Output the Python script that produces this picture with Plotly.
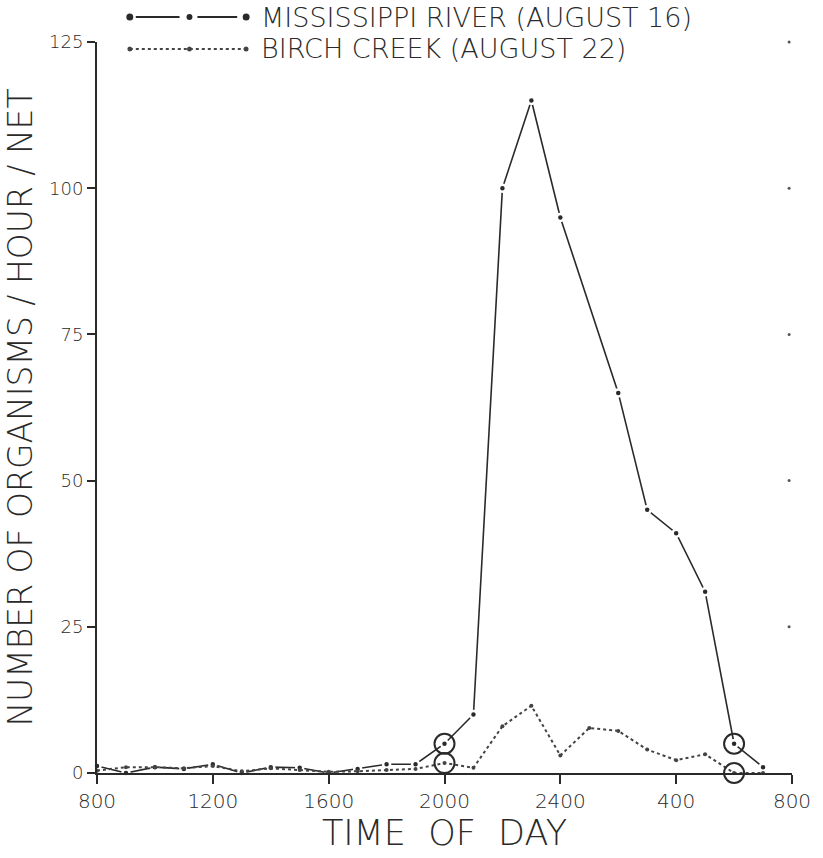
import plotly.graph_objects as go

# ---- data ----
time_of_day = [800, 900, 1000, 1100, 1200, 1300, 1400, 1500, 1600, 1700, 1800, 1900,
               2000, 2100, 2200, 2300, 2400, 100, 200, 300, 400, 500, 600, 700]
mississippi = [1.2, 0, 1.0, 0.7, 1.5, 0, 1.0, 0.9, 0, 0.7, 1.5, 1.5,
               5, 10, 100, 115, 95, None, 65, 45, 41, 31, 5, 1]
birch_creek = [0.4, 1.0, 1.0, 0.8, 1.2, 0.3, 0.8, 0.5, 0.2, 0.3, 0.5, 0.7,
               1.7, 0.9, 8, 11.5, 3, 7.7, 7.2, 4, 2.2, 3.2, 0, 0]
circled_times = [2000, 600]
x_tick_labels = ["800", "1200", "1600", "2000", "2400", "400", "800"]
y_ticks = [0, 25, 50, 75, 100, 125]

def elapsed(t):
    return (t // 100 - 8) % 24

xs = [elapsed(t) for t in time_of_day]
x_tick_vals = [i * 4 for i in range(len(x_tick_labels))]

FONT = "DejaVu Sans"
INK = "#2a2a2a"

fig = go.Figure()

# Mississippi: solid line with small gaps around the dots
fig.add_trace(go.Scatter(
    x=xs, y=mississippi, mode="lines+markers", connectgaps=True,
    line=dict(color=INK, width=1.6),
    marker=dict(size=7, color=INK, line=dict(color="white", width=2.5)),
    cliponaxis=False, showlegend=False))

# Birch Creek: dotted line with small dots
fig.add_trace(go.Scatter(
    x=xs, y=birch_creek, mode="lines+markers",
    line=dict(color="#444", width=2, dash="dot"),
    marker=dict(size=4, color="#444"),
    cliponaxis=False, showlegend=False))

# circled points (2000 and 600)
cx, cy = [], []
for t in circled_times:
    i = time_of_day.index(t)
    cx += [xs[i], xs[i]]
    cy += [mississippi[i], birch_creek[i]]
fig.add_trace(go.Scatter(
    x=cx, y=cy, mode="markers",
    marker=dict(symbol="circle-open", size=20, color=INK, line=dict(width=2)),
    cliponaxis=False, showlegend=False))

# tiny registration dots at the right edge
fig.add_trace(go.Scatter(
    x=[x_tick_vals[-1] - 0.1] * (len(y_ticks) - 1), y=y_ticks[1:], mode="markers",
    marker=dict(size=3, color="#555"), cliponaxis=False, showlegend=False))

W, H = 823, 858
L, R, T, B = 97, 27, 42, 85

def xp(px):
    return (px - L) / (W - L - R)

def yp(py):
    return (H - B - py) / (H - T - B)

# ---- hand-drawn style legend ----
shapes = []
ann = []
row1, row2 = 17, 49
dots_x = [130, 190, 247]
shapes.append(dict(type="line", xref="paper", yref="paper", x0=xp(136), x1=xp(180),
                   y0=yp(row1), y1=yp(row1), line=dict(color=INK, width=1.8)))
shapes.append(dict(type="line", xref="paper", yref="paper", x0=xp(198), x1=xp(238),
                   y0=yp(row1), y1=yp(row1), line=dict(color=INK, width=1.8)))
shapes.append(dict(type="line", xref="paper", yref="paper", x0=xp(130), x1=xp(247),
                   y0=yp(row2), y1=yp(row2), line=dict(color="#444", width=2, dash="dot")))
for i, dx in enumerate(dots_x):
    r = 3.5 if i != 1 else 3
    shapes.append(dict(type="circle", xref="paper", yref="paper",
                       x0=xp(dx - r), x1=xp(dx + r), y0=yp(row1 + r), y1=yp(row1 - r),
                       fillcolor=INK, line=dict(width=0)))
    r2 = 2.5
    shapes.append(dict(type="circle", xref="paper", yref="paper",
                       x0=xp(dx - r2), x1=xp(dx + r2), y0=yp(row2 + r2), y1=yp(row2 - r2),
                       fillcolor="#444", line=dict(width=0)))
ann.append(dict(text="MISSISSIPPI RIVER (AUGUST 16)", xref="paper", yref="paper",
                x=xp(260), y=yp(row1), xanchor="left", yanchor="middle", showarrow=False,
                font=dict(family=FONT, size=27, color=INK, weight=200)))
ann.append(dict(text="BIRCH CREEK (AUGUST 22)", xref="paper", yref="paper",
                x=xp(260), y=yp(row2), xanchor="left", yanchor="middle", showarrow=False,
                font=dict(family=FONT, size=27, color=INK, weight=200)))

fig.update_layout(
    width=W, height=H,
    margin=dict(l=L, r=R, t=T, b=B),
    paper_bgcolor="white", plot_bgcolor="white",
    shapes=shapes, annotations=ann,
    xaxis=dict(range=[0, 24], tickvals=x_tick_vals, ticktext=x_tick_labels,
               showgrid=False, zeroline=False, showline=True, linecolor=INK, linewidth=2,
               ticks="outside", ticklen=9, tickwidth=2, tickcolor=INK,
               tickfont=dict(family=FONT, size=20, color=INK, weight=200),
               title=dict(text="TIME  OF  DAY", standoff=2,
                          font=dict(family=FONT, size=35, color=INK, weight=200))),
    yaxis=dict(range=[0, 125], tickvals=y_ticks,
               showgrid=False, zeroline=False, showline=True, linecolor=INK, linewidth=2,
               ticks="outside", ticklen=8, tickwidth=2, tickcolor=INK,
               tickfont=dict(family=FONT, size=18, color=INK, weight=200),
               title=dict(text="NUMBER OF ORGANISMS / HOUR / NET", standoff=6,
                          font=dict(family=FONT, size=33, color=INK, weight=200))),
)

fig.write_html("out.html")
